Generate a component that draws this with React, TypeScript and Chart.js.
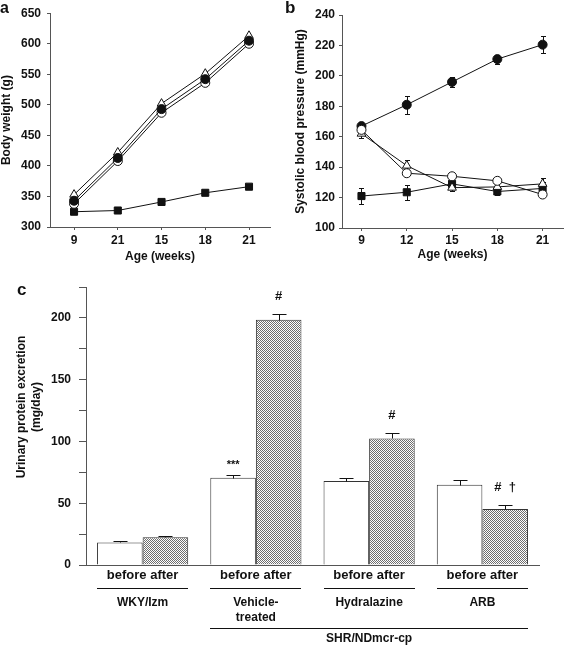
import React, { useEffect, useRef } from 'react';
import { Chart, registerables } from 'chart.js';

Chart.register(...registerables);

const FONT = '"Liberation Sans", Arial, Helvetica, sans-serif';
const AXIS = '#555';
const INK = '#111';

// ---------- Panel a: body weight ----------
const ageLabelsA = ['9', '21', '15', '18', '21'];
const bwTicks = [300, 350, 400, 450, 500, 550, 600, 650];
const bwWKY = [325, 327, 341, 356, 366];
const bwVehicle = [343, 413, 493, 542, 605];
const bwHydralazine = [338, 408, 487, 536, 600];
const bwARB = [353, 422, 502, 551, 613];

// ---------- Panel b: systolic blood pressure ----------
const ageLabelsB = ['9', '12', '15', '18', '21'];
const sbpTicks = [100, 120, 140, 160, 180, 200, 220, 240];
const sbpWKY = [121, 123.5, 129, 124, 126];
const sbpWKYErr = [5, 5, 3, 2, 4];
const sbpVehicle = [167, 181, 196, 211, 220.5];
const sbpVehicleErr = [3, 6, 3, 3, 5.5];
const sbpHydralazine = [164.5, 136, 134, 131, 122];
const sbpHydralazineErr = [1, 2, 1, 1, 1];
const sbpARB = [162, 141, 126.5, 127, 129];
const sbpARBErr = [3, 3.5, 2, 2, 4];

// ---------- Panel c: urinary protein ----------
const groupNames = [['WKY/Izm'], ['Vehicle-', 'treated'], ['Hydralazine'], ['ARB']];
const barLabels = ['before after', 'before after', 'before after', 'before after'];
const proteinTicks = [0, 25, 50, 75, 100, 125, 150, 175, 200, 225];
const proteinBefore = [18.3, 70.6, 67.9, 65];
const proteinBeforeErr = [1.1, 2.2, 2.2, 3.7];
const proteinAfter = [22.4, 198.4, 102.4, 45.3];
const proteinAfterErr = [1.3, 4.6, 4.3, 3.5];
const markBefore = ['', '***', '', ''];
const markAfter = ['', '#', '#', '#  \u2020'];
const shrLabel = 'SHR/NDmcr-cp';

const pts = (vals: number[]) => vals.map((y, x) => ({ x, y }));

const letterPlugin = (letter: string, x: number, y: number, size: number) => ({
  id: 'letter_' + letter,
  afterDraw(chart: any) {
    const ctx = chart.ctx;
    ctx.save();
    ctx.fillStyle = INK;
    ctx.font = `bold ${size}px ${FONT}`;
    ctx.textAlign = 'left';
    ctx.textBaseline = 'alphabetic';
    ctx.fillText(letter, x, y);
    ctx.restore();
  },
});

const errorBarPlugin = {
  id: 'errorBars',
  beforeDatasetsDraw(chart: any) {
    const ctx = chart.ctx;
    const xs = chart.scales.x;
    const ys = chart.scales.y;
    ctx.save();
    ctx.strokeStyle = INK;
    ctx.lineWidth = 1;
    chart.data.datasets.forEach((ds: any) => {
      const errs = ds.errors;
      if (!errs) return;
      ds.data.forEach((p: any, i: number) => {
        const e = errs[i];
        if (!e) return;
        const x = Math.round(xs.getPixelForValue(p.x)) + 0.5;
        const y1 = Math.round(ys.getPixelForValue(p.y + e)) + 0.5;
        const y2 = Math.round(ys.getPixelForValue(p.y - e)) + 0.5;
        ctx.beginPath();
        ctx.moveTo(x, y1);
        ctx.lineTo(x, y2);
        ctx.moveTo(x - 2.5, y1);
        ctx.lineTo(x + 2.5, y1);
        ctx.moveTo(x - 2.5, y2);
        ctx.lineTo(x + 2.5, y2);
        ctx.stroke();
      });
    });
    ctx.restore();
  },
};

function series(data: number[], style: string, filled: boolean, radius: number, errors?: number[]) {
  return {
    data: pts(data),
    errors,
    showLine: true,
    borderColor: INK,
    borderWidth: 1,
    tension: 0,
    pointStyle: style,
    pointRadius: radius,
    pointBorderWidth: 1,
    pointBorderColor: INK,
    pointBackgroundColor: filled ? INK : '#fff',
  };
}

function lineConfig(p: {
  labels: string[];
  ticks: number[];
  datasets: any[];
  xMin: number;
  xMax: number;
  yTitle: string;
  yTitlePad: number;
  xTitlePad: number;
  yWidth: number;
  xHeight: number;
  padTop: number;
  padRight: number;
  yTickPad: number;
  xTickPad: number;
  plugins: any[];
}) {
  const tickFont = { family: FONT, size: 12, weight: 'bold' as const };
  return {
    type: 'scatter' as const,
    data: { datasets: p.datasets },
    options: {
      responsive: false,
      animation: false as const,
      layout: { padding: { top: p.padTop, right: p.padRight, left: 0, bottom: 0 } },
      plugins: { legend: { display: false }, tooltip: { enabled: false } },
      scales: {
        x: {
          type: 'linear' as const,
          min: p.xMin,
          max: p.xMax,
          afterBuildTicks: (s: any) => {
            s.ticks = p.labels.map((_, i) => ({ value: i }));
          },
          ticks: {
            callback: (_v: any, i: number) => p.labels[i],
            font: tickFont,
            color: INK,
            padding: p.xTickPad,
            maxRotation: 0,
            autoSkip: false,
          },
          grid: { drawOnChartArea: false, drawTicks: true, tickLength: 3, color: AXIS },
          border: { color: AXIS, width: 1 },
          title: {
            display: true,
            text: 'Age (weeks)',
            font: tickFont,
            color: INK,
            padding: { top: 0, bottom: p.xTitlePad },
          },
          afterFit: (s: any) => {
            s.height = p.xHeight;
          },
        },
        y: {
          type: 'linear' as const,
          min: p.ticks[0],
          max: p.ticks[p.ticks.length - 1],
          afterBuildTicks: (s: any) => {
            s.ticks = p.ticks.map((v) => ({ value: v }));
          },
          ticks: { font: tickFont, color: INK, padding: p.yTickPad },
          grid: { drawOnChartArea: false, drawTicks: true, tickLength: 3, color: AXIS },
          border: { color: AXIS, width: 1 },
          title: {
            display: true,
            text: p.yTitle,
            font: tickFont,
            color: INK,
            padding: { top: p.yTitlePad, bottom: 0 },
          },
          afterFit: (s: any) => {
            s.width = p.yWidth;
          },
        },
      },
    },
    plugins: p.plugins,
  };
}

function makeHatch(): any {
  const c = document.createElement('canvas');
  c.width = 2;
  c.height = 2;
  const g = c.getContext('2d');
  if (!g) return '#b6b6b6';
  g.fillStyle = '#ffffff';
  g.fillRect(0, 0, 2, 2);
  g.fillStyle = '#6e6e6e';
  g.fillRect(0, 0, 1, 1);
  g.fillRect(1, 1, 1, 1);
  return g.createPattern(c, 'repeat') || '#b6b6b6';
}

const panelCDecor = {
  id: 'panelCDecor',
  afterDraw(chart: any) {
    const ctx = chart.ctx;
    const ys = chart.scales.y;
    const before = chart.getDatasetMeta(0).data;
    const after = chart.getDatasetMeta(1).data;
    ctx.save();
    ctx.strokeStyle = INK;
    ctx.fillStyle = INK;
    ctx.lineWidth = 1;

    const drawErr = (bar: any, v: number, e: number) => {
      const x = Math.round(bar.x) + 0.5;
      const y0 = Math.round(ys.getPixelForValue(v)) + 0.5;
      const y1 = Math.round(ys.getPixelForValue(v + e)) + 0.5;
      ctx.beginPath();
      ctx.moveTo(x, y0);
      ctx.lineTo(x, y1);
      ctx.moveTo(x - 7, y1);
      ctx.lineTo(x + 7, y1);
      ctx.stroke();
      return y1;
    };
    const drawMark = (text: string, x: number, errTop: number) => {
      if (!text) return;
      ctx.textAlign = 'center';
      ctx.textBaseline = 'alphabetic';
      if (text.startsWith('*')) {
        ctx.font = `bold 11px ${FONT}`;
        ctx.fillText(text, x, errTop - 7.5);
      } else {
        ctx.font = `bold 13px ${FONT}`;
        ctx.fillText(text, x, errTop - 14.5);
      }
    };

    before.forEach((bar: any, i: number) => {
      const t = drawErr(bar, proteinBefore[i], proteinBeforeErr[i]);
      drawMark(markBefore[i], bar.x, t);
    });
    after.forEach((bar: any, i: number) => {
      const t = drawErr(bar, proteinAfter[i], proteinAfterErr[i]);
      drawMark(markAfter[i], bar.x, t);
    });

    // category labels under the axis
    before.forEach((bar: any, i: number) => {
      const a = after[i];
      const left = bar.x - bar.width / 2;
      const right = a.x + a.width / 2;
      const cx = (left + right) / 2;
      ctx.textAlign = 'center';
      ctx.textBaseline = 'middle';
      ctx.font = `bold 13px ${FONT}`;
      ctx.fillText(barLabels[i], cx, 305);
      ctx.beginPath();
      ctx.moveTo(Math.round(left), 318.5);
      ctx.lineTo(Math.round(right), 318.5);
      ctx.stroke();
      ctx.font = `bold 12px ${FONT}`;
      groupNames[i].forEach((line, k) => {
        ctx.fillText(line, cx, 333 + k * 15);
      });
    });

    // SHR bracket line
    const l1 = before[1].x - before[1].width / 2;
    const r1 = after[3].x + after[3].width / 2;
    ctx.beginPath();
    ctx.moveTo(Math.round(l1), 358.5);
    ctx.lineTo(Math.round(r1), 358.5);
    ctx.stroke();
    ctx.font = `bold 12px ${FONT}`;
    ctx.textAlign = 'center';
    ctx.textBaseline = 'middle';
    ctx.fillText(shrLabel, (l1 + r1) / 2, 369);

    // y-axis title
    ctx.save();
    ctx.translate(22, 137);
    ctx.rotate(-Math.PI / 2);
    ctx.font = `bold 12px ${FONT}`;
    ctx.textAlign = 'center';
    ctx.textBaseline = 'middle';
    ctx.fillText('Urinary protein excretion', 0, 0);
    ctx.fillText('(mg/day)', 0, 15);
    ctx.restore();

    ctx.restore();
  },
};

export default function App() {
  const refA = useRef<HTMLCanvasElement>(null);
  const refB = useRef<HTMLCanvasElement>(null);
  const refC = useRef<HTMLCanvasElement>(null);

  useEffect(() => {
    Chart.defaults.font.family = FONT;
    Chart.defaults.color = INK;
    const charts: Chart[] = [];

    if (refA.current) {
      charts.push(
        new Chart(
          refA.current,
          lineConfig({
            labels: ageLabelsA,
            ticks: bwTicks,
            datasets: [
              series(bwVehicle, 'circle', true, 4.5),
              series(bwHydralazine, 'circle', false, 4.5),
              series(bwARB, 'triangle', false, 5),
              series(bwWKY, 'rect', true, 5),
            ],
            xMin: -0.55,
            xMax: 4.48,
            yTitle: 'Body weight (g)',
            yTitlePad: -1,
            xTitlePad: 6,
            yWidth: 50,
            xHeight: 43,
            padTop: 13,
            padRight: 15,
            yTickPad: 6,
            xTickPad: 3,
            plugins: [letterPlugin('a', 0, 13, 16)],
          }) as any
        )
      );
    }

    if (refB.current) {
      charts.push(
        new Chart(
          refB.current,
          lineConfig({
            labels: ageLabelsB,
            ticks: sbpTicks,
            datasets: [
              series(sbpHydralazine, 'circle', false, 4.5, sbpHydralazineErr),
              series(sbpARB, 'triangle', false, 5, sbpARBErr),
              series(sbpVehicle, 'circle', true, 4.5, sbpVehicleErr),
              series(sbpWKY, 'rect', true, 5, sbpWKYErr),
            ],
            xMin: -0.43,
            xMax: 4.45,
            yTitle: 'Systolic blood pressure (mmHg)',
            yTitlePad: 8,
            xTitlePad: 8,
            yWidth: 57,
            xHeight: 42,
            padTop: 15,
            padRight: 1,
            yTickPad: 4,
            xTickPad: 2,
            plugins: [errorBarPlugin, letterPlugin('b', 0, 13, 17)],
          }) as any
        )
      );
    }

    if (refC.current) {
      const hatch = makeHatch();
      charts.push(
        new Chart(refC.current, {
          type: 'bar',
          data: {
            labels: groupNames.map((g) => g.join(' ')),
            datasets: [
              {
                label: 'before',
                data: proteinBefore,
                backgroundColor: '#ffffff',
                borderColor: '#333',
                borderWidth: 1,
                categoryPercentage: 0.805,
                barPercentage: 1,
              },
              {
                label: 'after',
                data: proteinAfter,
                backgroundColor: hatch,
                borderColor: '#333',
                borderWidth: 1,
                categoryPercentage: 0.805,
                barPercentage: 1,
              },
            ],
          },
          options: {
            responsive: false,
            animation: false,
            layout: { padding: { top: 17, right: 30, left: 0, bottom: 0 } },
            plugins: { legend: { display: false }, tooltip: { enabled: false } },
            scales: {
              x: {
                grid: { display: false },
                ticks: { display: false },
                border: { color: AXIS, width: 1 },
                afterFit: (s: any) => {
                  s.height = 81;
                },
              },
              y: {
                min: 0,
                max: 225,
                afterBuildTicks: (s: any) => {
                  s.ticks = proteinTicks.map((v) => ({ value: v }));
                },
                ticks: {
                  callback: (v: any) => (Number(v) % 50 === 0 ? String(v) : ''),
                  font: { family: FONT, size: 12, weight: 'bold' },
                  color: INK,
                  padding: 8,
                },
                grid: { drawOnChartArea: false, drawTicks: true, tickLength: 7, color: AXIS },
                border: { color: AXIS, width: 1 },
                afterFit: (s: any) => {
                  s.width = 86;
                },
              },
            },
          } as any,
          plugins: [panelCDecor, letterPlugin('c', 17, 25, 17)],
        })
      );
    }

    return () => {
      charts.forEach((c) => c.destroy());
    };
  }, []);

  const abs = (l: number, t: number, w: number, h: number): React.CSSProperties => ({
    position: 'absolute',
    left: l,
    top: t,
    width: w,
    height: h,
  });

  return (
    <div style={{ position: 'absolute', left: 0, top: 0, width: 569, height: 646, background: '#fff' }}>
      <canvas ref={refA} width={285} height={270} style={abs(0, 0, 285, 270)} />
      <canvas ref={refB} width={284} height={270} style={abs(285, 0, 284, 270)} />
      <canvas ref={refC} width={569} height={376} style={abs(0, 270, 569, 376)} />
    </div>
  );
}
